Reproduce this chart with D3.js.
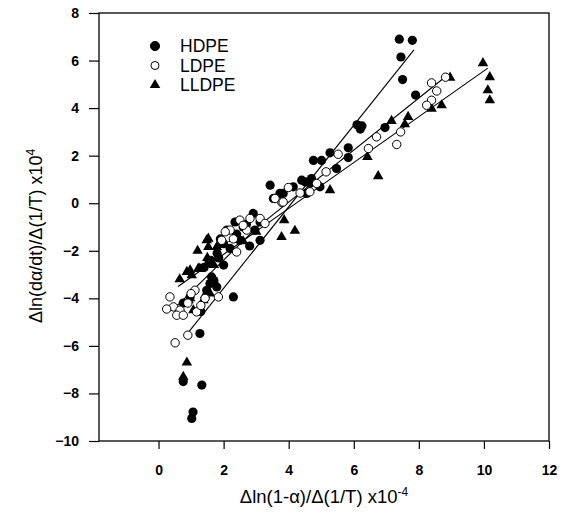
<!DOCTYPE html>
<html>
<head>
<meta charset="utf-8">
<script src="https://cdn.jsdelivr.net/npm/d3@7"></script>
<style>
  body { margin: 0; background: #fff; }
  svg text { font-family: "Liberation Sans", Arial, sans-serif; fill: #000; }
</style>
</head>
<body>
<svg width="567" height="517"></svg>
<script>
// HDPE = filled circles, LDPE = open circles, LLDPE = filled triangles
var hdpeX = [7.4, 7.8, 7.45, 7.5, 7.9, 6.1, 6.25, 6.2, 6.96, 5.83, 5.27, 5.83, 4.76, 5.01, 5.47, 4.5, 4.7, 4.14, 3.83, 4.55, 4.96,
             3.43, 3.53, 3.73, 4.4, 4.65, 2.91, 3.12, 3.12, 2.5, 2.96, 2.35, 2.1, 2.6, 2.2, 2.0, 1.85,
             2.3, 1.58, 1.79, 1.63, 1.48, 0.97, 1.7, 1.55, 1.3, 0.76, 1.27,
             1.4, 1.6, 1.8, 2.0, 1.9, 2.4, 2.7, 2.8,
             0.76, 1.33, 1.06, 1.02];
var hdpeY = [6.9, 6.85, 6.15, 5.2, 4.55, 3.3, 3.25, 3.12, 3.18, 2.33, 2.12, 1.92, 1.8, 1.8, 1.46, 0.9, 1.04, 0.69, 0.41, 0.41, 0.69,
             0.76, 0.2, 0.41, 0.97, 0.83, -0.43, -0.79, -1.56, -1.56, -1.13, -0.79, -1.13, -1.0, -1.9, -1.7, -2.3,
             -3.94, -3.38, -3.52, -3.1, -3.66, -3.94, -3.25, -2.5, -4.55, -4.2, -5.48,
             -2.7, -2.4, -2.1, -2.6, -1.5, -1.3, -0.9, -1.8,
             -7.5, -7.65, -8.78, -9.05];

var ldpeX = [8.82, 8.39, 8.55, 8.39, 8.24, 7.44, 7.32, 6.7, 6.45, 5.52, 5.15, 3.99, 4.35, 4.65, 3.79, 4.86,
             3.58, 3.83, 2.81, 3.12, 3.27, 2.71, 2.5, 2.6, 2.2, 1.94, 2.4, 2.05, 2.3,
             0.35, 1.84, 1.12, 0.46, 0.66, 0.56, 0.76, 1.17, 1.43, 0.9, 1.0, 1.3, 0.25,
             0.51, 0.9];
var ldpeY = [5.3, 5.06, 4.72, 4.33, 4.12, 3.0, 2.47, 2.79, 2.3, 2.06, 1.32, 0.66, 0.43, 0.48, 0.03, 0.83,
             0.2, 0.05, -0.64, -0.64, -0.85, -1.13, -0.71, -0.93, -1.13, -1.56, -2.05, -1.2, -1.5,
             -3.94, -3.94, -3.66, -4.36, -4.5, -4.71, -4.71, -4.57, -4.0, -4.2, -3.8, -4.3, -4.45,
             -5.87, -5.55];

var lldpeX = [9.97, 10.18, 10.12, 10.18, 8.96, 8.7, 8.39, 7.67, 7.57, 7.16, 6.42, 6.75, 5.27, 3.86, 4.19, 3.78,
              1.53, 1.53, 0.97, 1.27, 1.43, 0.92, 1.79, 1.48, 0.87, 1.22, 1.02, 1.58, 1.38, 1.07, 0.97,
              2.3, 2.6, 3.0, 1.9, 0.65, 1.2, 1.5, 1.7,
              0.87, 0.76];
var lldpeY = [5.89, 5.3, 4.75, 4.33, 5.28, 4.12, 3.98, 3.63, 3.32, 3.46, 1.95, 1.14, 0.55, -0.71, -1.16, -1.42,
              -1.49, -1.84, -2.82, -2.75, -3.87, -4.08, -1.84, -1.56, -2.89, -2.75, -3.03, -3.8, -4.08, -4.5, -4.0,
              -1.5, -1.6, -1.2, -1.75, -3.2, -2.0, -2.3, -2.6,
              -6.7, -7.3];

// fitted lines (end points)
var hdpeFitX = [0.85, 7.85], hdpeFitY = [-5.55, 6.45];
var ldpeFitX = [0.5, 3.0, 8.8], ldpeFitY = [-4.4, -1.05, 5.3];
var lldpeFitX = [0.6, 10.12], lldpeFitY = [-3.5, 5.68];

var xTicks = [0, 2, 4, 6, 8, 10, 12];
var yTicks = [-10, -8, -6, -4, -2, 0, 2, 4, 6, 8];
var legendNames = ["HDPE", "LDPE", "LLDPE"];

var svg = d3.select("svg"),
    plotL = 99, plotR = 549, plotT = 13, plotB = 441;

var x = d3.scaleLinear().domain([-1.83, 12]).range([plotL, plotR]),
    y = d3.scaleLinear().domain([-10, 8]).range([plotB, plotT]);

var zip = function(xs, ys) { return xs.map(function(v, i) { return [v, ys[i]]; }); };

// axes
svg.append("g")
    .attr("transform", "translate(0," + plotB + ")")
    .call(d3.axisBottom(x).tickValues(xTicks).tickSize(8).tickPadding(16).tickSizeOuter(0))
    .call(function(g) { g.select(".domain").remove(); });
svg.append("g")
    .attr("transform", "translate(" + plotL + ",0)")
    .call(d3.axisLeft(y).tickValues(yTicks).tickSize(10).tickPadding(10).tickSizeOuter(0))
    .call(function(g) { g.select(".domain").remove(); });
svg.selectAll(".tick text").attr("font-size", 14).attr("font-weight", "bold")
    .attr("font-family", "'Liberation Sans', Arial, sans-serif");
svg.selectAll(".tick line").attr("stroke", "#000").attr("stroke-width", 1.2);

svg.append("rect")
    .attr("x", plotL).attr("y", plotT)
    .attr("width", plotR - plotL).attr("height", plotB - plotT)
    .attr("fill", "none").attr("stroke", "#000").attr("stroke-width", 1.3);

// fit lines
var line = d3.line().x(function(d) { return x(d[0]); }).y(function(d) { return y(d[1]); });
[[hdpeFitX, hdpeFitY], [ldpeFitX, ldpeFitY], [lldpeFitX, lldpeFitY]].forEach(function(f) {
  svg.append("path").datum(zip(f[0], f[1]))
      .attr("d", line).attr("fill", "none").attr("stroke", "#000").attr("stroke-width", 1.1);
});

var tri = d3.symbol().type(d3.symbolTriangle).size(48);

function drawSeries(type, pts) {
  var g = svg.append("g");
  if (type === "tri") {
    g.selectAll("path").data(pts).join("path")
        .attr("d", tri)
        .attr("transform", function(d) { return "translate(" + x(d[0]) + "," + y(d[1]) + ")"; })
        .attr("fill", "#000");
  } else {
    g.selectAll("circle").data(pts).join("circle")
        .attr("cx", function(d) { return x(d[0]); })
        .attr("cy", function(d) { return y(d[1]); })
        .attr("r", type === "open" ? 4.2 : 4.6)
        .attr("fill", type === "open" ? "#fff" : "#000")
        .attr("stroke", "#000").attr("stroke-width", type === "open" ? 1 : 0);
  }
}

drawSeries("tri", zip(lldpeX, lldpeY));
drawSeries("filled", zip(hdpeX, hdpeY));
drawSeries("open", zip(ldpeX, ldpeY));

// legend
var types = ["filled", "open", "tri"];
legendNames.forEach(function(name, i) {
  var ly = 46 + i * 19.5;
  var g = svg.append("g");
  if (types[i] === "tri") {
    g.append("path").attr("d", tri).attr("transform", "translate(155," + ly + ")").attr("fill", "#000");
  } else {
    g.append("circle").attr("cx", 155).attr("cy", ly).attr("r", types[i] === "open" ? 4 : 4.6)
        .attr("fill", types[i] === "open" ? "#fff" : "#000").attr("stroke", "#000");
  }
  g.append("text").attr("x", 180).attr("y", ly + 6).attr("font-size", 17.5).text(name);
});

// axis titles
var xt = svg.append("text").attr("x", 324).attr("y", 503).attr("text-anchor", "middle").attr("font-size", 18.5);
xt.append("tspan").text("\u0394ln(1-\u03b1)/\u0394(1/T) x10");
xt.append("tspan").attr("dy", -7).attr("font-size", 12).text("-4");

var yt = svg.append("text").attr("transform", "translate(42,236) rotate(-90)")
    .attr("text-anchor", "middle").attr("font-size", 18);
yt.append("tspan").text("\u0394ln(d\u03b1/dt)/\u0394(1/T) x10");
yt.append("tspan").attr("dy", -7).attr("font-size", 12).text("4");
</script>
</body>
</html>
